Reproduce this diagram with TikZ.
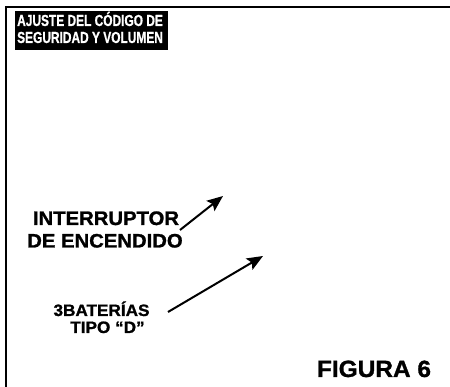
\documentclass[tikz,border=0pt]{standalone}
\usepackage{fontspec}
\usetikzlibrary{arrows.meta}
\newfontfamily\lblfont[FakeStretch=1.04, BoldFeatures={FakeBold=1.2}]{Liberation Sans}
\newfontfamily\ttlfont[FakeStretch=0.745, BoldFeatures={FakeBold=0.8}]{Liberation Sans}
\tikzset{
  lbl/.style={inner sep=0pt, anchor=base, font=\lblfont\bfseries\fontsize{19.5}{22}\selectfont},
  lblsmall/.style={inner sep=0pt, anchor=base, font=\lblfont\bfseries\fontsize{16.5}{19}\selectfont},
  ttl/.style={inner sep=0pt, anchor=base west, text=white, font=\ttlfont\bfseries\fontsize{16}{18}\selectfont},
  ptr/.style={line width=2pt, -{Stealth[length=16pt,width=13pt,inset=3pt]}},
}
\begin{document}
\begin{tikzpicture}[x=1pt,y=-1pt]
\useasboundingbox (0,0) rectangle (450,387);
% frame
\draw[line width=2.6pt] (6,387) -- (6,7) -- (450,7);
% title box
\fill[black] (15,11) rectangle (168,50);
\node[ttl] (t1) at (17,26) {AJUSTE DEL CÓDIGO DE};
\node[ttl] (t2) at (17,43) {SEGURIDAD Y VOLUMEN};
% labels
\node[lbl] (i1) at (106,225) {INTERRUPTOR};
\node[lbl] (i2) at (105,247.5) {DE ENCENDIDO};
\node[lblsmall] (b1) at (101.5,316) {3BATERÍAS};
\node[lblsmall] (b2) at (107.5,333) {TIPO “D”};
\node[lbl, font=\lblfont\bfseries\fontsize{23.5}{26}\selectfont] (fig) at (374,377) {FIGURA 6};
% arrows
\coordinate (a1s) at (180,230);
\coordinate (a1e) at (223,196);
\coordinate (a2s) at (168,312);
\coordinate (a2e) at (263,256);
\draw[ptr] (a1s) -- (a1e);
\draw[ptr] (a2s) -- (a2e);
\end{tikzpicture}
\end{document}
